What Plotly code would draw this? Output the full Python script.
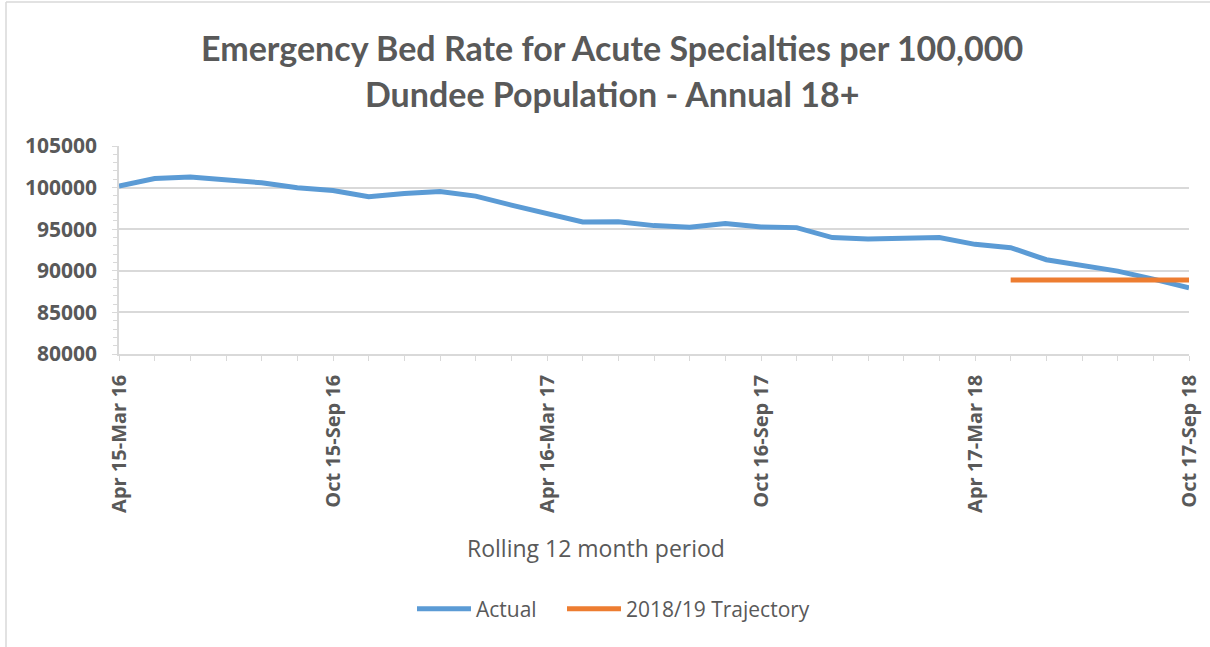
import plotly.graph_objects as go

periods = [
    "Apr 15-Mar 16", "May 15-Apr 16", "Jun 15-May 16", "Jul 15-Jun 16", "Aug 15-Jul 16",
    "Sep 15-Aug 16", "Oct 15-Sep 16", "Nov 15-Oct 16", "Dec 15-Nov 16", "Jan 16-Dec 16",
    "Feb 16-Jan 17", "Mar 16-Feb 17", "Apr 16-Mar 17", "May 16-Apr 17", "Jun 16-May 17",
    "Jul 16-Jun 17", "Aug 16-Jul 17", "Sep 16-Aug 17", "Oct 16-Sep 17", "Nov 16-Oct 17",
    "Dec 16-Nov 17", "Jan 17-Dec 17", "Feb 17-Jan 18", "Mar 17-Feb 18", "Apr 17-Mar 18",
    "May 17-Apr 18", "Jun 17-May 18", "Jul 17-Jun 18", "Aug 17-Jul 18", "Sep 17-Aug 18",
    "Oct 17-Sep 18",
]
labelled_periods = ["Apr 15-Mar 16", "Oct 15-Sep 16", "Apr 16-Mar 17",
                    "Oct 16-Sep 17", "Apr 17-Mar 18", "Oct 17-Sep 18"]

actual = [100200, 101100, 101270, 100900, 100580, 99990, 99660, 98900, 99300, 99530,
          98980, 97900, 96900, 95870, 95900, 95430, 95240, 95670, 95270, 95190,
          93990, 93830, 93910, 93990, 93180, 92780, 91330, 90690, 89960, 89000,
          87940]
trajectory = [None] * 25 + [88900, 88900, 88900, 88900, 88900, 88900]

y_ticks = [80000, 85000, 90000, 95000, 100000, 105000]

idx = list(range(len(periods)))
ticktext = [p if p in labelled_periods else "" for p in periods]

GRAY = "#595959"
GRID = "#D9D9D9"

fig = go.Figure()
fig.add_trace(go.Scatter(x=idx, y=actual, mode="lines", name="Actual",
                         line=dict(color="#5B9BD5", width=5), hovertext=periods,
                         legend="legend"))
fig.add_trace(go.Scatter(x=idx, y=trajectory, mode="lines", name="2018/19 Trajectory",
                         line=dict(color="#ED7D31", width=5), hovertext=periods,
                         legend="legend2"))

W, H = 1210, 647
L, R, T, B = 119, 1189, 146, 354

def px_x(p):
    return (p - L) / (R - L)

def px_y(p):
    return (B - p) / (B - T)

legend_style = dict(orientation="h", xanchor="left", y=px_y(609), yanchor="middle",
                    font=dict(size=21, family="Open Sans", color=GRAY),
                    bgcolor="rgba(0,0,0,0)", itemwidth=54)

fig.update_layout(
    width=W, height=H,
    margin=dict(l=L, r=W - R, t=T, b=H - B, autoexpand=False),
    paper_bgcolor="white", plot_bgcolor="white",
    font=dict(family="Lato, Open Sans, sans-serif", color=GRAY),
    showlegend=True,
    legend=dict(x=px_x(412), **legend_style),
    legend2=dict(x=px_x(562), **legend_style),
    xaxis=dict(range=[0, 30], tickmode="array", tickvals=idx, ticktext=ticktext,
               tickangle=-90, ticks="outside", ticklen=5, tickcolor=GRID,
               showline=True, linecolor=GRID, linewidth=1.5, showgrid=False,
               zeroline=False, ticklabelstandoff=6,
               tickfont=dict(size=20, family="Open Sans", color=GRAY, weight="bold")),
    yaxis=dict(range=[80000, 105000], tickmode="array", tickvals=y_ticks,
               tickformat="d", ticks="outside", ticklen=5, tickcolor=GRID,
               showline=True, linecolor=GRID, linewidth=1.5,
               showgrid=True, gridcolor=GRID, gridwidth=1.5, zeroline=False,
               ticklabelstandoff=11,
               minor=dict(dtick=1000, ticks="outside", ticklen=4, tickcolor=GRID,
                          showgrid=False),
               tickfont=dict(size=21, family="Open Sans", color=GRAY, weight="bold")),
)

fig.add_annotation(text="Emergency Bed Rate for Acute Specialties per 100,000",
                   xref="paper", yref="paper", x=px_x(612), y=px_y(48),
                   xanchor="center", yanchor="middle", showarrow=False,
                   font=dict(size=34, family="Lato", color=GRAY, weight="bold"))
fig.add_annotation(text="Dundee Population - Annual 18+",
                   xref="paper", yref="paper", x=px_x(612), y=px_y(93),
                   xanchor="center", yanchor="middle", showarrow=False,
                   font=dict(size=34, family="Lato", color=GRAY, weight="bold"))
fig.add_annotation(text="Rolling 12 month period",
                   xref="paper", yref="paper", x=px_x(596), y=px_y(548),
                   xanchor="center", yanchor="middle", showarrow=False,
                   font=dict(size=23, family="Open Sans", color=GRAY))

# chart border (left and top edges visible)
fig.add_shape(type="line", xref="paper", yref="paper",
              x0=px_x(6), x1=px_x(6), y0=px_y(2), y1=px_y(660),
              line=dict(color=GRID, width=1.5))
fig.add_shape(type="line", xref="paper", yref="paper",
              x0=px_x(6), x1=px_x(1220), y0=px_y(2), y1=px_y(2),
              line=dict(color=GRID, width=1.5))

fig.write_html("out.html", config={"displayModeBar": False},
               post_script="document.body.style.margin='0';document.body.style.overflow='hidden';")
